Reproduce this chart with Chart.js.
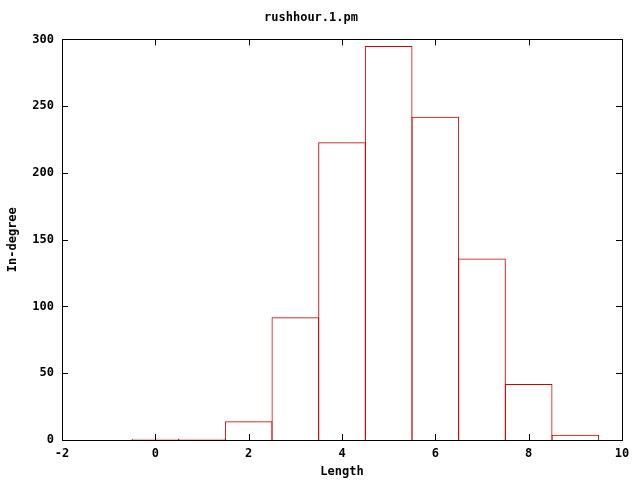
<!DOCTYPE html>
<html>
<head>
<meta charset="utf-8">
<script src="https://cdn.jsdelivr.net/npm/chart.js@4/dist/chart.umd.min.js"></script>
<style>
  html, body { margin: 0; padding: 0; background: #fff; }
  #wrap { width: 640px; height: 480px; }
</style>
</head>
<body>
<div id="wrap"><canvas id="hist"></canvas></div>
<script>
const lengths = [0, 1, 2, 3, 4, 5, 6, 7, 8, 9]
const inDegree = [1, 1, 14, 92, 223, 295, 242, 136, 42, 4]
const xTicks = [-2, 0, 2, 4, 6, 8, 10]
const yTicks = [0, 50, 100, 150, 200, 250, 300]

const font = { family: '"DejaVu Sans Mono", monospace', size: 12, weight: 'bold' }

// gnuplot-like frame with inward ticks on all four sides
const frameTicks = {
    id: 'frameTicks',
    afterDraw(chart) {
        const { ctx, chartArea: a, scales } = chart
        const len = 6
        ctx.save()
        ctx.strokeStyle = '#000'
        ctx.lineWidth = 1
        ctx.beginPath()
        xTicks.forEach(v => {
            const px = Math.round(scales.x.getPixelForValue(v)) + 0.5
            ctx.moveTo(px, a.bottom); ctx.lineTo(px, a.bottom - len)
            ctx.moveTo(px, a.top); ctx.lineTo(px, a.top + len)
        })
        yTicks.forEach(v => {
            const py = Math.round(scales.y.getPixelForValue(v)) + 0.5
            ctx.moveTo(a.left, py); ctx.lineTo(a.left + len, py)
            ctx.moveTo(a.right, py); ctx.lineTo(a.right - len, py)
        })
        ctx.stroke()
        ctx.strokeRect(Math.round(a.left) + 0.5, Math.round(a.top) + 0.5,
            Math.round(a.right - a.left), Math.round(a.bottom - a.top))
        ctx.restore()
    }
}

new Chart(document.getElementById('hist'), {
    type: 'bar',
    data: {
        datasets: [{
            data: lengths.map((x, i) => ({ x: x, y: inDegree[i] })),
            backgroundColor: 'rgba(0,0,0,0)',
            borderColor: '#cc0000',
            borderWidth: 1,
            borderSkipped: 'start',
            barPercentage: 1.021,
            categoryPercentage: 1
        }]
    },
    options: {
        responsive: true,
        maintainAspectRatio: false,
        animation: false,
        layout: { padding: { top: 0, right: 18, left: 0, bottom: 0 } },
        plugins: {
            legend: { display: false },
            tooltip: { enabled: false },
            title: {
                display: true,
                text: 'rushhour.1.pm',
                color: '#000',
                font: font,
                padding: { top: 11, bottom: 14 }
            }
        },
        scales: {
            x: {
                type: 'linear',
                offset: false,
                min: -2,
                max: 10,
                afterFit: s => { s.height = 40 },
                afterBuildTicks: s => { s.ticks = xTicks.map(v => ({ value: v })) },
                grid: { display: false, drawTicks: false, offset: false },
                border: { display: false },
                ticks: { color: '#000', font: font, padding: 7, maxRotation: 0 },
                title: { display: true, text: 'Length', color: '#000', font: font, padding: { top: 0, bottom: 1 } }
            },
            y: {
                min: 0,
                max: 300,
                afterFit: s => { s.width = 62 },
                afterBuildTicks: s => { s.ticks = yTicks.map(v => ({ value: v })) },
                grid: { display: false, drawTicks: false },
                border: { display: false },
                ticks: { color: '#000', font: font, padding: 8 },
                title: { display: true, text: 'In-degree', color: '#000', font: font, padding: { top: 6, bottom: 0 } }
            }
        }
    },
    plugins: [frameTicks]
})
</script>
</body>
</html>
